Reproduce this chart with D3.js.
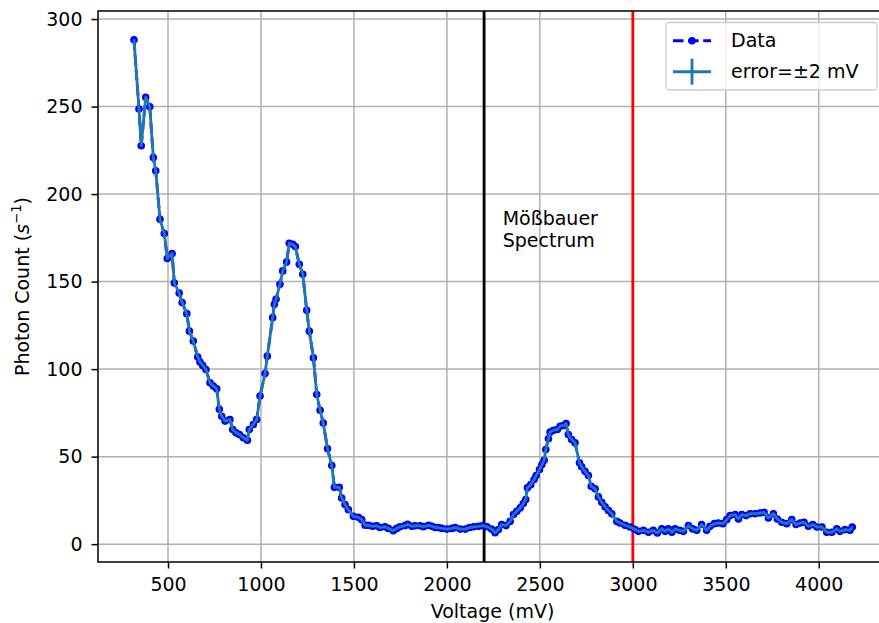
<!DOCTYPE html>
<html>
<head>
<meta charset="utf-8">
<script src="https://cdn.jsdelivr.net/npm/d3@7"></script>
<style>
    body { margin: 0; background: #fff; }
    svg { display: block; font-family: "DejaVu Sans", sans-serif; }
</style>
</head>
<body>
<svg id="chart" width="879" height="623"></svg>
<script>
const voltage = [
    317, 344, 356, 380, 402, 421, 434, 457, 480, 496, 522, 534, 560, 576, 601, 615, 636, 660, 672, 687,
    704, 726, 744, 762, 776, 789, 807, 833, 848, 866, 884, 905, 927, 937, 959, 977, 995, 1022, 1034, 1063,
    1072, 1081, 1102, 1117, 1138, 1152, 1171, 1185, 1206, 1225, 1246, 1260, 1282, 1300, 1318, 1335, 1358, 1381, 1395, 1421,
    1434, 1452, 1470, 1497, 1524, 1542, 1560, 1577, 1600, 1622, 1640, 1667, 1685, 1712, 1730, 1748, 1775, 1788, 1811, 1829,
    1856, 1874, 1901, 1919, 1937, 1955, 1973, 2000, 2027, 2045, 2072, 2099, 2122, 2144, 2171, 2194, 2216, 2240, 2259, 2277,
    2295, 2318, 2340, 2358, 2376, 2394, 2411, 2424, 2433, 2451, 2469, 2480, 2498, 2511, 2523, 2532, 2546, 2555, 2573, 2594,
    2609, 2627, 2641, 2653, 2671, 2689, 2713, 2725, 2743, 2761, 2776, 2797, 2815, 2833, 2851, 2869, 2887, 2914, 2931, 2958,
    2985, 3010, 3030, 3057, 3084, 3110, 3132, 3156, 3174, 3191, 3210, 3227, 3251, 3272, 3299, 3322, 3344, 3370, 3397, 3415,
    3439, 3460, 3484, 3505, 3523, 3550, 3568, 3586, 3609, 3631, 3657, 3684, 3706, 3729, 3756, 3777, 3801, 3828, 3855, 3878,
    3900, 3921, 3944, 3968, 3990, 4017, 4043, 4070, 4097, 4114, 4141, 4168, 4180
];
const photonCount = [
    288.2, 248.6, 227.6, 255.3, 249.9, 220.9, 213.3, 185.6, 177.5, 163.2, 166.0, 149.2, 143.5, 138.0, 131.7, 121.7, 116.0, 106.9, 104.0, 102.1,
    99.8, 92.2, 90.3, 88.8, 77.0, 73.1, 70.3, 71.2, 65.5, 63.6, 62.6, 60.8, 59.4, 65.5, 68.4, 71.2, 84.6, 97.5, 107.4, 129.4,
    137.0, 139.9, 148.5, 156.1, 161.2, 171.9, 171.3, 170.0, 159.9, 154.2, 133.6, 121.7, 106.5, 85.5, 76.5, 69.2, 54.5, 44.9, 32.5, 32.5,
    26.4, 22.6, 19.7, 15.9, 15.3, 14.0, 10.8, 10.8, 10.2, 10.5, 9.5, 9.9, 9.0, 7.7, 9.0, 9.9, 10.6, 11.3, 10.2, 10.5,
    10.5, 9.9, 10.8, 10.2, 9.5, 9.5, 9.0, 8.6, 9.0, 9.5, 8.6, 8.6, 9.5, 9.9, 10.2, 10.6, 9.9, 8.6, 6.5, 8.3,
    11.2, 10.6, 13.0, 16.9, 18.8, 20.7, 23.2, 25.5, 32.2, 34.0, 36.9, 39.2, 42.6, 45.5, 47.9, 54.1, 60.2, 64.0, 65.1, 65.5,
    67.4, 67.8, 68.9, 62.6, 59.8, 57.9, 46.5, 44.2, 41.6, 39.2, 33.1, 31.6, 27.0, 23.9, 21.3, 19.2, 17.3, 13.0, 12.1, 10.8,
    9.8, 8.5, 7.3, 7.9, 6.8, 7.9, 6.4, 8.7, 7.3, 8.7, 6.8, 8.7, 7.9, 7.3, 10.6, 8.7, 7.9, 11.2, 7.9, 10.2,
    11.7, 12.1, 11.7, 14.0, 16.3, 16.9, 14.4, 16.9, 16.3, 17.4, 17.4, 17.8, 18.2, 15.0, 17.4, 14.4, 12.5, 11.7, 14.0, 11.2,
    12.1, 12.5, 10.2, 11.2, 9.8, 9.8, 6.8, 6.8, 8.7, 7.3, 8.3, 7.9, 9.8
];
const voltageError = 2;          // mV, both sides
const xTickValues = [500, 1000, 1500, 2000, 2500, 3000, 3500, 4000];
const yTickValues = [0, 50, 100, 150, 200, 250, 300];
const markerVoltages = [2200, 3000];
const legendLabels = ["Data", "error=\u00b12 mV"];
const annotationLines = ["M\u00f6\u00dfbauer", "Spectrum"];

const FONT = 19;
const LW = 2.85;
const DOT_R = 3.2;

document.addEventListener('DOMContentLoaded', () => {
    drawChart();
});

function drawChart() {
    const svg = d3.select("#chart");
    const left = 98, right = 887, top = 11, bottom = 562;

    const x = d3.scaleLinear().domain([123.5, 4367]).range([left, right]);
    const y = d3.scaleLinear().domain([-10.2, 304.6]).range([bottom, top]);

    svg.append("clipPath").attr("id", "plot-clip")
        .append("rect")
        .attr("x", left).attr("y", top)
        .attr("width", right - left).attr("height", bottom - top);

    // grid
    const grid = svg.append("g").attr("clip-path", "url(#plot-clip)");
    grid.selectAll("line.gx").data(xTickValues).join("line")
        .attr("x1", d => x(d)).attr("x2", d => x(d))
        .attr("y1", top).attr("y2", bottom)
        .attr("stroke", "#b0b0b0").attr("stroke-width", 1.5);
    grid.selectAll("line.gy").data(yTickValues).join("line")
        .attr("x1", left).attr("x2", right)
        .attr("y1", d => y(d)).attr("y2", d => y(d))
        .attr("stroke", "#b0b0b0").attr("stroke-width", 1.5);

    const plot = svg.append("g").attr("clip-path", "url(#plot-clip)");

    // reference voltages
    const lineColors = ["black", "red"];
    plot.selectAll("line.vmark").data(markerVoltages).join("line")
        .attr("x1", d => x(d)).attr("x2", d => x(d))
        .attr("y1", top).attr("y2", bottom)
        .attr("stroke", (d, i) => lineColors[i])
        .attr("stroke-width", LW);

    const points = voltage.map((v, i) => [v, photonCount[i]]);
    const line = d3.line().x(d => x(d[0])).y(d => y(d[1]));

    // 'b.--' data
    plot.append("path")
        .attr("d", line(points))
        .attr("fill", "none")
        .attr("stroke", "#0000ff")
        .attr("stroke-width", LW)
        .attr("stroke-dasharray", "10.5,4.6");
    plot.selectAll("circle").data(points).join("circle")
        .attr("cx", d => x(d[0])).attr("cy", d => y(d[1]))
        .attr("r", DOT_R)
        .attr("fill", "#0000ff")
        .attr("stroke", "#0000ff").attr("stroke-width", 1.2);

    // errorbar trace
    plot.append("path")
        .attr("d", line(points))
        .attr("fill", "none")
        .attr("stroke", "#1f77b4")
        .attr("stroke-width", LW)
        .attr("stroke-linejoin", "round");
    plot.selectAll("line.err").data(points).join("line")
        .attr("x1", d => x(d[0] - voltageError)).attr("x2", d => x(d[0] + voltageError))
        .attr("y1", d => y(d[1])).attr("y2", d => y(d[1]))
        .attr("stroke", "#1f77b4").attr("stroke-width", LW);

    // annotation
    const note = svg.append("text")
        .attr("x", x(2300))
        .attr("y", y(170) - 22)
        .attr("font-size", FONT)
        .attr("fill", "#000");
    annotationLines.forEach((t, i) => {
        note.append("tspan").attr("x", x(2300)).attr("dy", i ? 22 : 0).text(t);
    });

    // axes
    const xAxis = svg.append("g")
        .attr("transform", `translate(0,${bottom})`)
        .call(d3.axisBottom(x).tickValues(xTickValues).tickSize(6.5).tickPadding(9).tickFormat(d3.format("d")));
    const yAxis = svg.append("g")
        .attr("transform", `translate(${left},0)`)
        .call(d3.axisLeft(y).tickValues(yTickValues).tickSize(6.5).tickPadding(9).tickFormat(d3.format("d")));
    [xAxis, yAxis].forEach(ax => {
        ax.select(".domain").remove();
        ax.selectAll(".tick line").attr("stroke", "#000").attr("stroke-width", 1.5);
        ax.selectAll(".tick text")
            .attr("font-size", FONT)
            .attr("font-family", "DejaVu Sans")
            .attr("fill", "#000");
    });

    // spines
    svg.append("rect")
        .attr("x", left).attr("y", top)
        .attr("width", right - left).attr("height", bottom - top)
        .attr("fill", "none")
        .attr("stroke", "#000").attr("stroke-width", 1.5);

    // axis labels
    svg.append("text")
        .attr("x", (left + right) / 2)
        .attr("y", 618)
        .attr("text-anchor", "middle")
        .attr("font-size", FONT)
        .attr("fill", "#000")
        .text("Voltage (mV)");

    const ylab = svg.append("text")
        .attr("transform", `translate(29,${(top + bottom) / 2}) rotate(-90)`)
        .attr("text-anchor", "middle")
        .attr("font-size", FONT)
        .attr("fill", "#000");
    ylab.append("tspan").text("Photon Count (");
    ylab.append("tspan").attr("font-style", "italic").text("s");
    ylab.append("tspan").attr("font-size", FONT * 0.7).attr("dy", -8).text("\u22121");
    ylab.append("tspan").attr("dy", 8).text(")");

    drawLegend(svg);
}

function drawLegend(svg) {
    const lx = 666, ly = 22.5, lw = 211, lh = 67.5;
    const g = svg.append("g");
    g.append("rect")
        .attr("x", lx).attr("y", ly)
        .attr("width", lw).attr("height", lh)
        .attr("rx", 3.5)
        .attr("fill", "#fff").attr("fill-opacity", 0.8)
        .attr("stroke", "#cccccc").attr("stroke-width", 1.3);

    const rowY = [40.7, 71.7];
    const hx0 = 673, hx1 = 711;

    // Data handle
    g.append("line")
        .attr("x1", hx0).attr("x2", hx1)
        .attr("y1", rowY[0]).attr("y2", rowY[0])
        .attr("stroke", "#0000ff").attr("stroke-width", LW)
        .attr("stroke-dasharray", "10.5,4.6");
    g.append("circle")
        .attr("cx", (hx0 + hx1) / 2).attr("cy", rowY[0])
        .attr("r", DOT_R).attr("fill", "#0000ff")
        .attr("stroke", "#0000ff").attr("stroke-width", 1.2);

    // errorbar handle
    g.append("line")
        .attr("x1", hx0).attr("x2", hx1)
        .attr("y1", rowY[1]).attr("y2", rowY[1])
        .attr("stroke", "#1f77b4").attr("stroke-width", LW);
    g.append("line")
        .attr("x1", (hx0 + hx1) / 2).attr("x2", (hx0 + hx1) / 2)
        .attr("y1", rowY[1] - 13).attr("y2", rowY[1] + 13)
        .attr("stroke", "#1f77b4").attr("stroke-width", LW);

    g.selectAll("text.lab").data(legendLabels).join("text")
        .attr("x", 731)
        .attr("y", (d, i) => rowY[i])
        .attr("dy", "0.35em")
        .attr("font-size", FONT)
        .attr("fill", "#000")
        .text(d => d);
}
</script>
</body>
</html>
